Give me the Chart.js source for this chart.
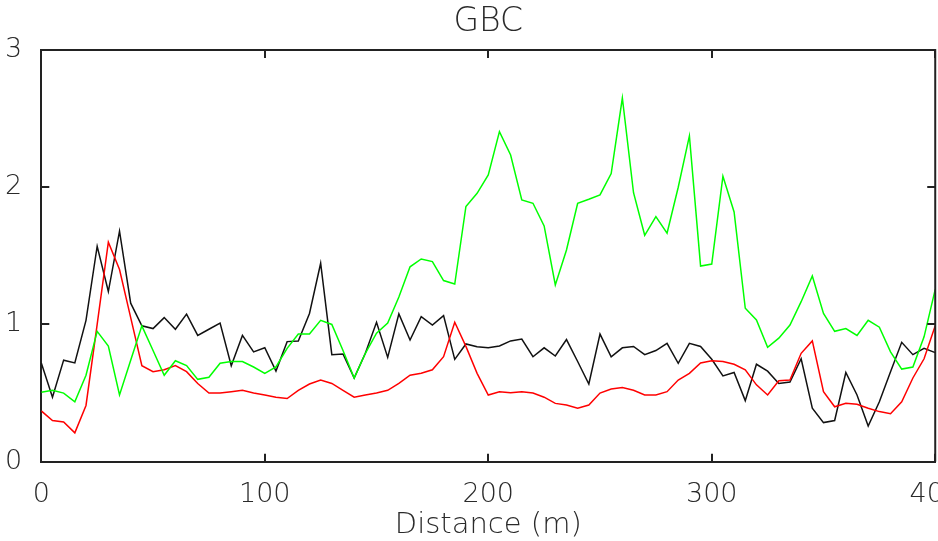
<!DOCTYPE html>
<html>
<head>
<meta charset="utf-8">
<script src="https://cdn.jsdelivr.net/npm/chart.js@4/dist/chart.umd.min.js"></script>
<style>
  html, body { margin: 0; padding: 0; background: #fff; overflow: hidden; width: 938px; height: 541px; }
  #wrap { position: absolute; left: 0; top: 0; }
</style>
</head>
<body>
<div id="wrap"><canvas id="c" width="970" height="541"></canvas></div>
<script>
// ---- data ----
const distance = [
  0, 5, 10, 15, 20, 25, 30, 35, 40, 45,
  50, 55, 60, 65, 70, 75, 80, 85, 90, 95,
  100, 105, 110, 115, 120, 125, 130, 135, 140, 145,
  150, 155, 160, 165, 170, 175, 180, 185, 190, 195,
  200, 205, 210, 215, 220, 225, 230, 235, 240, 245,
  250, 255, 260, 265, 270, 275, 280, 285, 290, 295,
  300, 305, 310, 315, 320, 325, 330, 335, 340, 345,
  350, 355, 360, 365, 370, 375, 380, 385, 390, 395,
  400
];
const blackSeries = [
  0.72, 0.47, 0.74, 0.72, 1.03, 1.57, 1.24, 1.68, 1.155, 0.99,
  0.97, 1.05, 0.965, 1.075, 0.92, 0.965, 1.01, 0.70, 0.92, 0.80,
  0.83, 0.66, 0.875, 0.88, 1.08, 1.446, 0.78, 0.785, 0.61, 0.79,
  1.016, 0.76, 1.077, 0.887, 1.057, 0.996, 1.064, 0.746, 0.858, 0.838,
  0.83, 0.843, 0.88, 0.894, 0.765, 0.83, 0.77, 0.89, 0.73, 0.566,
  0.93, 0.765, 0.83, 0.84, 0.78, 0.81, 0.863, 0.717, 0.863, 0.84,
  0.746, 0.625, 0.65, 0.445, 0.71, 0.66, 0.57, 0.58, 0.75, 0.39,
  0.285, 0.30, 0.65, 0.486, 0.26, 0.437, 0.656, 0.87, 0.78, 0.826,
  0.795
];
const redSeries = [
  0.37, 0.30, 0.29, 0.21, 0.41, 1.00, 1.60, 1.40, 1.05, 0.70,
  0.656, 0.67, 0.70, 0.656, 0.57, 0.50, 0.50, 0.51, 0.52, 0.50,
  0.486, 0.47, 0.46, 0.52, 0.566, 0.595, 0.57, 0.52, 0.47, 0.486,
  0.50, 0.52, 0.57, 0.63, 0.644, 0.67, 0.765, 1.016, 0.84, 0.644,
  0.486, 0.51, 0.503, 0.51, 0.50, 0.47, 0.425, 0.413, 0.39, 0.413,
  0.50, 0.53, 0.54, 0.52, 0.486, 0.486, 0.51, 0.595, 0.644, 0.72,
  0.736, 0.73, 0.71, 0.67, 0.56, 0.486, 0.59, 0.595, 0.79, 0.88,
  0.51, 0.40, 0.425, 0.418, 0.39, 0.365, 0.35, 0.437, 0.61, 0.75,
  0.99
];
const greenSeries = [
  0.506, 0.52, 0.50, 0.437, 0.63, 0.95, 0.843, 0.486, 0.74, 0.99,
  0.81, 0.63, 0.736, 0.70, 0.60, 0.615, 0.717, 0.73, 0.73, 0.69,
  0.644, 0.69, 0.826, 0.93, 0.93, 1.03, 1.00, 0.81, 0.61, 0.79,
  0.936, 1.01, 1.20, 1.42, 1.477, 1.458, 1.32, 1.295, 1.86, 1.956,
  2.09, 2.405, 2.235, 1.907, 1.883, 1.718, 1.288, 1.543, 1.883, 1.912,
  1.944, 2.10, 2.65, 1.96, 1.65, 1.786, 1.665, 2.00, 2.374, 1.426,
  1.44, 2.08, 1.82, 1.118, 1.033, 0.834, 0.90, 0.996, 1.166, 1.353,
  1.08, 0.95, 0.97, 0.92, 1.03, 0.98, 0.80, 0.675, 0.69, 0.91,
  1.256
];
const xTickValues = [0, 100, 200, 300, 400];
const yTickValues = [0, 1, 2, 3];
const titleText = 'GBC';
const xAxisTitle = 'Distance (m)';

// ---- chart ----
const FONT = "'DejaVu Sans'";
const TEXT = '#2a2a2a';
const AXIS = '#222';

function pts(ys) { return distance.map((d, i) => ({ x: d, y: ys[i] })); }

const frameTicks = {
  id: 'frameTicks',
  afterDraw(chart) {
    const { ctx, chartArea: { left, right, top, bottom }, scales: { x, y } } = chart;
    const L = 8;
    ctx.save();
    ctx.strokeStyle = AXIS;
    ctx.lineWidth = 2;
    ctx.beginPath();
    ctx.moveTo(left, top); ctx.lineTo(right, top); ctx.lineTo(right, bottom);
    xTickValues.forEach(v => {
      const px = Math.round(x.getPixelForValue(v));
      ctx.moveTo(px, bottom); ctx.lineTo(px, bottom - L);
      ctx.moveTo(px, top); ctx.lineTo(px, top + L);
    });
    yTickValues.forEach(v => {
      const py = Math.round(y.getPixelForValue(v));
      ctx.moveTo(left, py); ctx.lineTo(left + L, py);
      ctx.moveTo(right, py); ctx.lineTo(right - L, py);
    });
    ctx.stroke();
    ctx.restore();
  }
};

new Chart(document.getElementById('c'), {
  type: 'line',
  data: {
    datasets: [
      { data: pts(greenSeries), borderColor: '#00ff00', borderWidth: 1.5 },
      { data: pts(redSeries), borderColor: '#ff0000', borderWidth: 1.5 },
      { data: pts(blackSeries), borderColor: '#111111', borderWidth: 1.5 }
    ]
  },
  options: {
    responsive: false,
    animation: false,
    elements: { point: { radius: 0 }, line: { tension: 0 } },
    layout: { padding: { left: 0, right: 30.4, top: 0, bottom: 0 } },
    plugins: {
      legend: { display: false },
      tooltip: { enabled: false },
      title: {
        display: true, text: titleText, color: TEXT, fullSize: false,
        font: { family: FONT, size: 33, weight: 200, lineHeight: 1.2 },
        padding: { top: 3, bottom: 7.4 }
      }
    },
    scales: {
      x: {
        type: 'linear', min: 0, max: 400,
        afterBuildTicks: s => { s.ticks = xTickValues.map(v => ({ value: v })); },
        ticks: { color: TEXT, font: { family: FONT, size: 27, weight: 200 }, padding: 9, maxRotation: 0, autoSkip: false },
        grid: { display: false },
        border: { display: true, color: AXIS, width: 2 },
        title: { display: true, text: xAxisTitle, color: TEXT, font: { family: FONT, size: 29, weight: 200, lineHeight: 1.1 }, padding: { top: 0, bottom: 0 } },
        afterFit: s => { s.height = 79.3; }
      },
      y: {
        min: 0, max: 3,
        afterBuildTicks: s => { s.ticks = yTickValues.map(v => ({ value: v })); },
        ticks: { color: TEXT, font: { family: FONT, size: 27, weight: 200 }, padding: 11 },
        grid: { display: false },
        border: { display: true, color: AXIS, width: 2 },
        afterFit: s => { s.width = 41.3; }
      }
    }
  },
  plugins: [frameTicks]
});
</script>
</body>
</html>
